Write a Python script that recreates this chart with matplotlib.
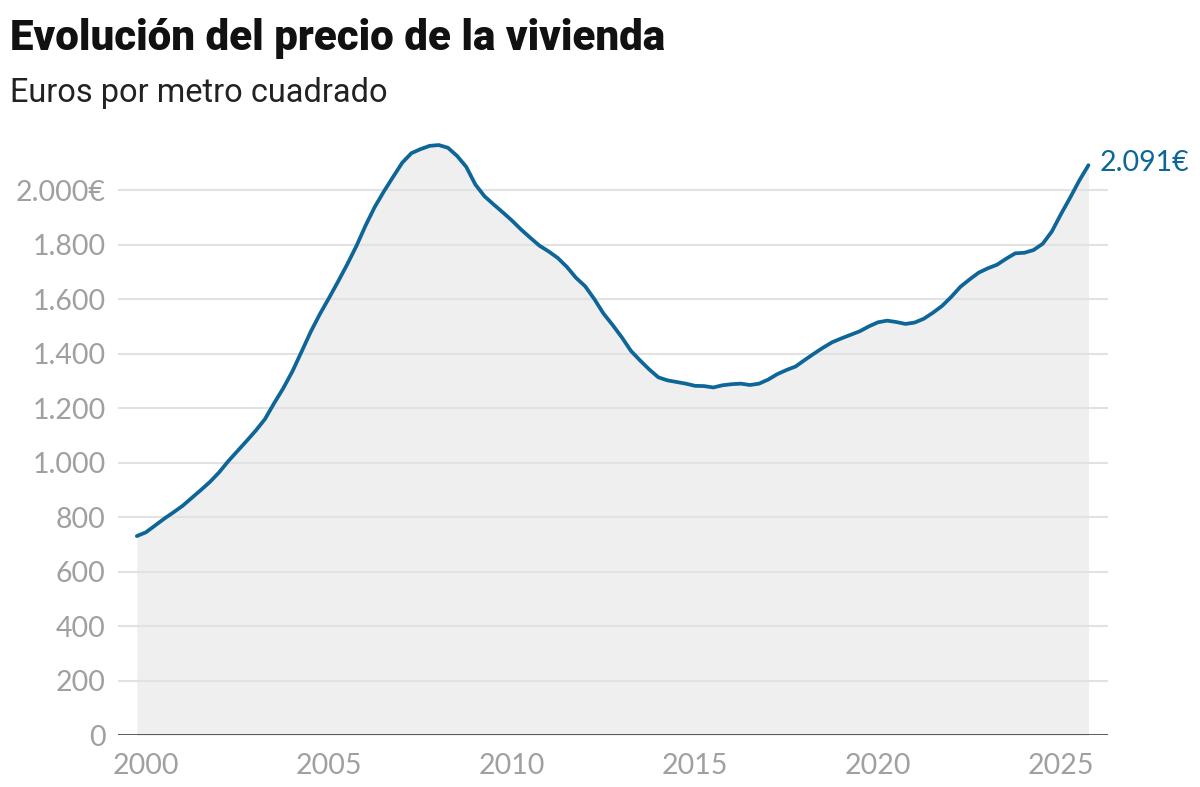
import matplotlib
matplotlib.use("Agg")
import matplotlib.pyplot as plt
from matplotlib import font_manager as fm
import numpy as np

# ---------------- data ----------------
start_year = 1999.75          # first quarterly observation
step = 0.25                   # quarterly
prices = [
    731, 745, 770, 795, 818, 842, 871, 900, 930, 965,
    1006, 1043, 1080, 1118, 1160, 1218, 1273, 1335, 1407, 1480,
    1545, 1604, 1665, 1728, 1795, 1870, 1938, 1995, 2048, 2100,
    2135, 2150, 2162, 2165, 2155, 2125, 2085, 2020, 1977, 1947,
    1918, 1888, 1855, 1825, 1796, 1775, 1751, 1718, 1678, 1647,
    1600, 1547, 1505, 1460, 1410, 1375, 1342, 1313, 1302, 1296,
    1290, 1282, 1281, 1276, 1284, 1288, 1290, 1285, 1290, 1305,
    1325, 1340, 1353, 1377, 1400, 1422, 1442, 1456, 1469, 1482,
    1500, 1515, 1521, 1516, 1509, 1514, 1528, 1550, 1575, 1608,
    1645, 1672, 1697, 1713, 1726, 1748, 1768, 1770, 1780, 1803,
    1848, 1912, 1972, 2035, 2091,
]
x_ticks = [2000, 2005, 2010, 2015, 2020, 2025]
y_ticks = [0, 200, 400, 600, 800, 1000, 1200, 1400, 1600, 1800, 2000]
title = "Evolución del precio de la vivienda"
subtitle = "Euros por metro cuadrado"

years = start_year + step * np.arange(len(prices))


def fmt(v):
    return f"{v:,}".replace(",", ".")


def have(name):
    try:
        fm.findfont(fm.FontProperties(family=name), fallback_to_default=False)
        return True
    except Exception:
        return False


narrow = "Liberation Sans Narrow" if have("Liberation Sans Narrow") else "Roboto"
label_font = "Lato" if have("Lato") else "DejaVu Sans"

LINE = "#0d6598"
FILL = "#efefef"
GRID = "#e2e2e2"
TICK = "#a0a0a0"

W, H = 1200, 787
fig = plt.figure(figsize=(W / 100, H / 100), dpi=100)
ax = fig.add_axes([118 / W, 1 - 735.4 / H, 990 / W, (735.4 - 135.5) / H])
ax.set_xlim(1999.235, 2026.284)
ax.set_ylim(0, 2200)

ax.fill_between(years, prices, 0, color=FILL, lw=0, zorder=1)
for yv in y_ticks[1:]:
    ax.axhline(yv, color=GRID, lw=1.5, zorder=2)
ax.axhline(0, color="#2b2b2b", lw=1.8, zorder=4)
ax.plot(years, prices, color=LINE, lw=2.7, zorder=5,
        solid_capstyle="round", solid_joinstyle="round")

ax.annotate(f"{fmt(prices[-1])}€", xy=(years[-1], prices[-1]),
            xytext=(11, 2), textcoords="offset pixels",
            ha="left", va="center", color=LINE, fontsize=20.5,
            family=label_font, annotation_clip=False)

for s in ax.spines.values():
    s.set_visible(False)
ax.set_xticks(x_ticks)
ax.set_xticklabels([str(t) for t in x_ticks])
ax.set_yticks(y_ticks)
ax.set_yticklabels([fmt(t) + ("€" if t == y_ticks[-1] else "") for t in y_ticks])
ax.tick_params(axis="both", length=0, colors=TICK, labelsize=20.5)
ax.tick_params(axis="y", pad=9)
ax.tick_params(axis="x", pad=13)
for lab in ax.get_xticklabels() + ax.get_yticklabels():
    lab.set_family(label_font)

t1 = fig.text(10 / W, 1 - 50 / H, title, family=narrow, fontweight="black",
              fontsize=28, color="#111111", ha="left", va="baseline")
t2 = fig.text(10 / W, 1 - 101.7 / H, subtitle, family=narrow,
              fontsize=26, color="#222222", ha="left", va="baseline")

fig.canvas.draw()
r = fig.canvas.get_renderer()
for t, target in ((t1, 653), (t2, 378)):
    w = t.get_window_extent(r).width
    t.set_fontsize(t.get_fontsize() * target / w)

fig.savefig("out.png", dpi=100, facecolor="white")
